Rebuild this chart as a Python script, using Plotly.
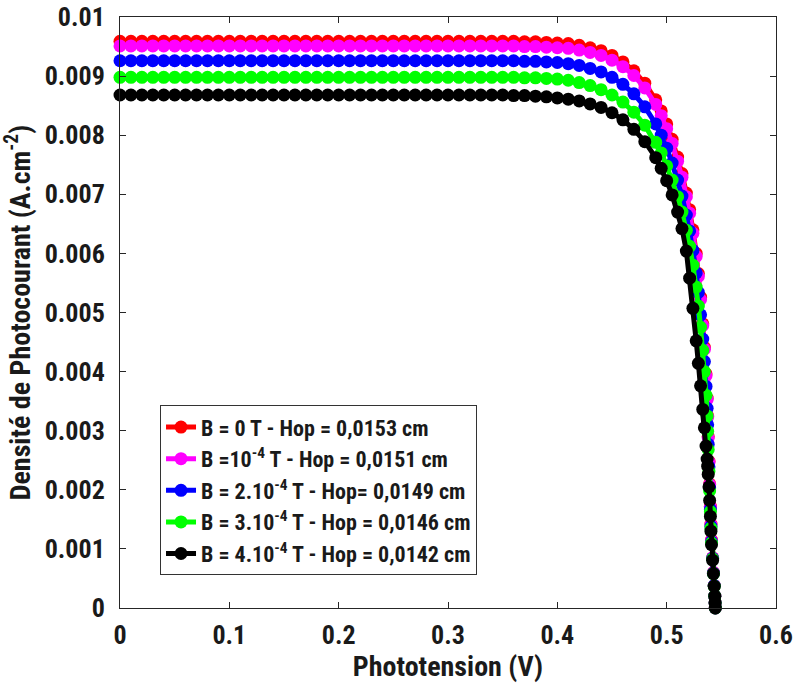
import plotly.graph_objects as go

# Phototension (V) - shared sampling
V = [0.00, 0.01, 0.02, 0.03, 0.04, 0.05, 0.06, 0.07, 0.08, 0.09,
     0.10, 0.11, 0.12, 0.13, 0.14, 0.15, 0.16, 0.17, 0.18, 0.19,
     0.20, 0.21, 0.22, 0.23, 0.24, 0.25, 0.26, 0.27, 0.28, 0.29,
     0.30, 0.31, 0.32, 0.33, 0.34, 0.35, 0.36, 0.37, 0.38, 0.39,
     0.40, 0.41, 0.42, 0.43, 0.44, 0.45, 0.46, 0.47, 0.48, 0.49,
     0.495, 0.50, 0.505, 0.51, 0.514, 0.518, 0.521, 0.524, 0.527, 0.529,
     0.531, 0.533, 0.5345, 0.536, 0.537, 0.5375, 0.538, 0.5387, 0.5393, 0.540,
     0.5405, 0.541, 0.542, 0.5428, 0.5435, 0.544, 0.5443, 0.5445]

J_B0 = [0.00959, 0.00959, 0.00959, 0.00959, 0.00959, 0.00959, 0.00959, 0.00959, 0.00959, 0.00959,
        0.00959, 0.00959, 0.00959, 0.00959, 0.00959, 0.00959, 0.00959, 0.00959, 0.00959, 0.00959,
        0.00959, 0.00959, 0.00959, 0.00959, 0.00959, 0.00959, 0.00959, 0.00959, 0.00959, 0.00959,
        0.00959, 0.00959, 0.00959, 0.00959, 0.00959, 0.00959, 0.00959, 0.00958, 0.00958, 0.00957,
        0.00956, 0.00955, 0.00952, 0.00948, 0.00943, 0.00935, 0.00924, 0.00909, 0.00888, 0.00860,
        0.00841, 0.00819, 0.00793, 0.00763, 0.00735, 0.00702, 0.00674, 0.00640, 0.00600, 0.00566,
        0.00526, 0.00481, 0.00441, 0.00396, 0.00355, 0.00325, 0.00290, 0.00248, 0.00210, 0.00172,
        0.00142, 0.00115, 0.00085, 0.00060, 0.00038, 0.00020, 0.00009, 0.0]

J_B1 = [0.00951, 0.00951, 0.00951, 0.00951, 0.00951, 0.00951, 0.00951, 0.00951, 0.00951, 0.00951,
        0.00951, 0.00951, 0.00951, 0.00951, 0.00951, 0.00951, 0.00951, 0.00951, 0.00951, 0.00951,
        0.00951, 0.00951, 0.00951, 0.00951, 0.00951, 0.00951, 0.00951, 0.00951, 0.00951, 0.00951,
        0.00951, 0.00951, 0.00951, 0.00951, 0.00951, 0.00951, 0.00951, 0.00950, 0.00950, 0.00949,
        0.00948, 0.00947, 0.00944, 0.00940, 0.00935, 0.00927, 0.00916, 0.00901, 0.00880, 0.00852,
        0.00833, 0.00811, 0.00786, 0.00756, 0.00729, 0.00696, 0.00668, 0.00634, 0.00595, 0.00561,
        0.00522, 0.00478, 0.00438, 0.00393, 0.00353, 0.00323, 0.00288, 0.00247, 0.00209, 0.00171,
        0.00141, 0.00114, 0.00085, 0.00060, 0.00038, 0.00020, 0.00009, 0.0]

J_B2 = [0.00926, 0.00926, 0.00926, 0.00926, 0.00926, 0.00926, 0.00926, 0.00926, 0.00926, 0.00926,
        0.00926, 0.00926, 0.00926, 0.00926, 0.00926, 0.00926, 0.00926, 0.00926, 0.00926, 0.00926,
        0.00926, 0.00926, 0.00926, 0.00926, 0.00926, 0.00926, 0.00926, 0.00926, 0.00926, 0.00926,
        0.00926, 0.00926, 0.00926, 0.00926, 0.00926, 0.00926, 0.00926, 0.00925, 0.00925, 0.00924,
        0.00923, 0.00921, 0.00918, 0.00913, 0.00907, 0.00898, 0.00886, 0.00870, 0.00848, 0.00819,
        0.00800, 0.00778, 0.00753, 0.00724, 0.00697, 0.00665, 0.00638, 0.00605, 0.00567, 0.00534,
        0.00496, 0.00455, 0.00417, 0.00375, 0.00338, 0.00310, 0.00277, 0.00239, 0.00203, 0.00167,
        0.00138, 0.00112, 0.00084, 0.00059, 0.00038, 0.00020, 0.00009, 0.0]

J_B3 = [0.00898, 0.00898, 0.00898, 0.00898, 0.00898, 0.00898, 0.00898, 0.00898, 0.00898, 0.00898,
        0.00898, 0.00898, 0.00898, 0.00898, 0.00898, 0.00898, 0.00898, 0.00898, 0.00898, 0.00898,
        0.00898, 0.00898, 0.00898, 0.00898, 0.00898, 0.00898, 0.00898, 0.00898, 0.00898, 0.00898,
        0.00898, 0.00898, 0.00898, 0.00898, 0.00898, 0.00898, 0.00898, 0.00897, 0.00897, 0.00896,
        0.00895, 0.00893, 0.00889, 0.00884, 0.00877, 0.00868, 0.00856, 0.00839, 0.00817, 0.00788,
        0.00770, 0.00748, 0.00724, 0.00696, 0.00670, 0.00639, 0.00612, 0.00580, 0.00543, 0.00511,
        0.00475, 0.00436, 0.00400, 0.00360, 0.00325, 0.00299, 0.00268, 0.00232, 0.00198, 0.00163,
        0.00135, 0.00110, 0.00083, 0.00058, 0.00037, 0.00020, 0.00009, 0.0]

J_B4 = [0.00868, 0.00868, 0.00868, 0.00868, 0.00868, 0.00868, 0.00868, 0.00868, 0.00868, 0.00868,
        0.00868, 0.00868, 0.00868, 0.00868, 0.00868, 0.00868, 0.00868, 0.00868, 0.00868, 0.00868,
        0.00868, 0.00868, 0.00868, 0.00868, 0.00868, 0.00868, 0.00868, 0.00868, 0.00868, 0.00868,
        0.00868, 0.00868, 0.00868, 0.00868, 0.00868, 0.00868, 0.00867, 0.00867, 0.00866, 0.00865,
        0.00863, 0.00861, 0.00858, 0.00853, 0.00847, 0.00838, 0.00826, 0.00810, 0.00789, 0.00762,
        0.00744, 0.00723, 0.00699, 0.00670, 0.00642, 0.00604, 0.00558, 0.00507, 0.00452, 0.00414,
        0.00376, 0.00336, 0.00305, 0.00274, 0.00252, 0.00240, 0.00226, 0.00205, 0.00182, 0.00155,
        0.00130, 0.00107, 0.00081, 0.00058, 0.00037, 0.00020, 0.00009, 0.0]

series_names = [
    "B = 0 T - Hop = 0,0153 cm",
    "B =10<sup>-4</sup> T - Hop = 0,0151 cm",
    "B = 2.10<sup>-4</sup> T - Hop= 0,0149 cm",
    "B = 3.10<sup>-4</sup> T - Hop = 0,0146 cm",
    "B = 4.10<sup>-4</sup> T - Hop = 0,0142 cm",
]
series_values = [J_B0, J_B1, J_B2, J_B3, J_B4]
series_colors = ["#ff0000", "#ff00ff", "#0000ff", "#00ff00", "#000000"]

x_ticks = [0, 0.1, 0.2, 0.3, 0.4, 0.5, 0.6]
x_tick_labels = ["0", "0.1", "0.2", "0.3", "0.4", "0.5", "0.6"]
y_ticks = [0, 0.001, 0.002, 0.003, 0.004, 0.005, 0.006, 0.007, 0.008, 0.009, 0.01]
y_tick_labels = ["0", "0.001", "0.002", "0.003", "0.004", "0.005", "0.006",
                 "0.007", "0.008", "0.009", "0.01"]

FONT = "Roboto Condensed, Liberation Sans, Arial, sans-serif"

fig = go.Figure()
for i, (name, vals, col) in enumerate(zip(series_names, series_values, series_colors)):
    assert len(vals) == len(V)
    fig.add_trace(go.Scatter(
        x=V, y=vals, name=name, mode="lines+markers",
        line=dict(color=col, width=5),
        marker=dict(color=col, size=13, symbol="circle"),
        cliponaxis=False, legendgroup="g%d" % i,
    ))

def f(size):
    return dict(family=FONT, size=size, color="#1a1a1a", weight="bold")

axis_common = dict(
    showline=True, linecolor="#262626", linewidth=1, mirror="ticks",
    ticks="inside", ticklen=6, tickcolor="#262626",
    showgrid=False, zeroline=False,
    tickfont=f(26), ticklabeloverflow="allow",
)

fig.update_layout(
    width=793, height=683,
    margin=dict(l=120, r=17, t=17, b=75),
    paper_bgcolor="white", plot_bgcolor="white",
    font=f(22),
    xaxis=dict(range=[0, 0.6], tickvals=x_ticks, ticktext=x_tick_labels,
               ticklabelstandoff=4,
               title=dict(text="Phototension (V)", standoff=6, font=f(28)),
               automargin=False, **axis_common),
    yaxis=dict(range=[0, 0.01], tickvals=y_ticks, ticktext=y_tick_labels,
               ticklabelstandoff=9,
               title=dict(text="Densité de Photocourant (A.cm<sup>-2</sup>)", standoff=10,
                          font=f(28)),
               automargin=False, **axis_common),
    legend=dict(x=0.061, y=0.343, xanchor="left", yanchor="top",
                bgcolor="white", bordercolor="#333333", borderwidth=1,
                font=f(22),
                traceorder="grouped", tracegroupgap=0),
    showlegend=True,
)

fig.write_html("out.html")
